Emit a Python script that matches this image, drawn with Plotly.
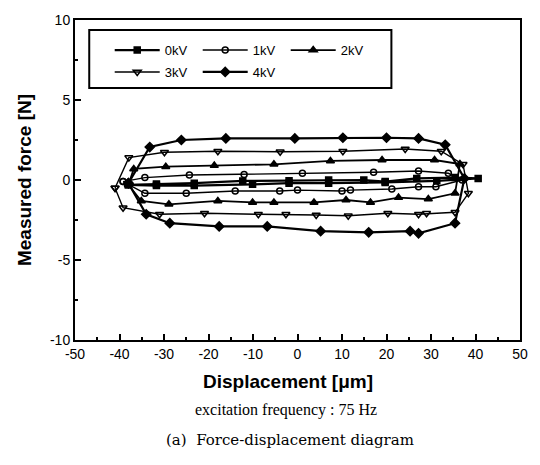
import plotly.graph_objects as go

# ---- data (closed force-displacement loops) ----
x_0kV = [-38, -31.7, -23.2, -12.3, -1.9, 7.0, 14.9, 19.7, 26.8, 35.4, 40.6, 31.3, 19.7, 7.0, -1.9, -10.1, -23.2, -31.7, -38]
y_0kV = [-0.3, -0.25, -0.2, -0.06, -0.05, 0.0, 0.0, -0.1, 0.1, 0.15, 0.1, -0.05, -0.15, -0.2, -0.2, -0.27, -0.35, -0.35, -0.3]

x_1kV = [-39.2, -34.3, -24.3, -12.0, 1.1, 17.1, 27.2, 33.9, 37.0, 31.1, 27.2, 21.2, 11.9, 10.0, 0.0, -4.0, -14.0, -25.0, -34.3, -39.2]
y_1kV = [-0.1, 0.15, 0.31, 0.35, 0.42, 0.48, 0.56, 0.42, 0.0, -0.42, -0.42, -0.56, -0.63, -0.69, -0.63, -0.69, -0.69, -0.83, -0.83, -0.1]

x_2kV = [-38, -36.8, -29.6, -18.7, -5.3, 7.4, 19.0, 30.8, 36.5, 35.4, 29.4, 22.7, 16.4, 10.9, 3.7, -5.3, -10.1, -17.9, -28.9, -35.1, -38]
y_2kV = [-0.3, 0.69, 0.83, 0.9, 0.98, 1.19, 1.25, 1.25, 1.0, -0.83, -1.19, -1.1, -1.4, -1.25, -1.4, -1.4, -1.4, -1.31, -1.52, -1.31, -0.3]

x_3kV = [-41, -37.9, -29.9, -17.9, -3.9, 10.2, 24.2, 32.3, 37.2, 38.4, 35.4, 29.0, 27.2, 20.3, 11.4, 4.2, -2.6, -8.8, -20.9, -31.0, -39.2, -41]
y_3kV = [-0.5, 1.4, 1.73, 1.8, 1.77, 1.8, 1.94, 1.8, 0.98, -0.83, -2.02, -2.08, -2.14, -2.08, -2.23, -2.19, -2.14, -2.14, -2.08, -2.14, -1.73, -0.5]

x_4kV = [-38, -33.2, -26.1, -16.1, -0.6, 10.2, 20.0, 27.2, 33.2, 37.5, 35.4, 27.2, 25.3, 16.0, 5.2, -6.8, -17.6, -28.7, -34.0, -38]
y_4kV = [-0.2, 2.06, 2.5, 2.6, 2.6, 2.64, 2.64, 2.6, 2.2, 0.1, -2.7, -3.33, -3.2, -3.27, -3.2, -2.9, -2.9, -2.7, -2.14, -0.2]

series_names = ["0kV", "1kV", "2kV", "3kV", "4kV"]

x_ticks = [-50, -40, -30, -20, -10, 0, 10, 20, 30, 40, 50]
y_ticks = [-10, -5, 0, 5, 10]

# ---- figure ----
fig = go.Figure()

styles = [
    dict(symbol="square", lw=2.2, size=6, legend="legend"),
    dict(symbol="circle-open", lw=1.4, size=6, legend="legend"),
    dict(symbol="triangle-up", lw=1.8, size=7, legend="legend"),
    dict(symbol="triangle-down-open", lw=1.4, size=7, legend="legend2"),
    dict(symbol="diamond", lw=2.2, size=7, legend="legend2"),
]
data = [(x_0kV, y_0kV), (x_1kV, y_1kV), (x_2kV, y_2kV), (x_3kV, y_3kV), (x_4kV, y_4kV)]

for (xs, ys), name, st in zip(data, series_names, styles):
    fig.add_trace(go.Scatter(
        x=xs, y=ys, name=name, mode="lines+markers",
        line=dict(color="black", width=st["lw"]),
        marker=dict(symbol=st["symbol"], size=st["size"], color="black",
                    line=dict(color="black", width=1.5)),
        legend=st["legend"],
    ))

axis_common = dict(
    showline=True, linecolor="black", linewidth=2, mirror=True,
    ticks="inside", ticklen=6, tickwidth=1.5, tickcolor="black",
    showgrid=False, zeroline=False,
    tickfont=dict(family="Liberation Sans, Arial", size=14, color="black"),
)

fig.update_xaxes(
    range=[-50, 50], tickmode="array", tickvals=x_ticks,
    ticktext=[str(v) for v in x_ticks],
    minor=dict(dtick=5, ticks="inside", ticklen=3, tickcolor="black"),
    **axis_common,
)
fig.update_yaxes(
    range=[-10, 10], tickmode="array", tickvals=y_ticks,
    ticktext=[str(v) for v in y_ticks],
    minor=dict(dtick=2.5, ticks="inside", ticklen=3, tickcolor="black"),
    title=dict(text="<b>Measured force [N]</b>", standoff=13,
               font=dict(family="Liberation Sans, Arial", size=19, color="black")),
    **axis_common,
)

legend_common = dict(
    orientation="h", xanchor="left", yanchor="middle",
    bgcolor="rgba(0,0,0,0)", borderwidth=0,
    font=dict(family="Liberation Sans, Arial", size=13, color="black"),
    entrywidth=28, entrywidthmode="pixels", itemwidth=45,
    tracegroupgap=0,
)

fig.update_layout(
    width=540, height=465,
    margin=dict(l=75, r=18, t=20, b=125),
    paper_bgcolor="white", plot_bgcolor="white",
    showlegend=True,
    legend=dict(x=0.078, y=0.906, **legend_common),
    legend2=dict(x=0.078, y=0.8375, **legend_common),
    shapes=[dict(type="rect", xref="paper", yref="paper",
                 x0=0.032, x1=0.711, y0=0.7875, y1=0.969,
                 line=dict(color="black", width=2))],
    annotations=[
        dict(text="<b>Displacement [μm]</b>", xref="paper", yref="paper",
             x=0.478, y=-0.131, showarrow=False, xanchor="center", yanchor="middle",
             font=dict(family="Liberation Sans, Arial", size=19, color="black")),
        dict(text="excitation frequency : 75 Hz", xref="paper", yref="paper",
             x=0.474, y=-0.219, showarrow=False, xanchor="center", yanchor="middle",
             font=dict(family="Liberation Serif, Times New Roman", size=16, color="black")),
        dict(text="(a)  Force-displacement diagram", xref="paper", yref="paper",
             x=0.483, y=-0.3125, showarrow=False, xanchor="center", yanchor="middle",
             font=dict(family="DejaVu Serif", size=15, color="black")),
    ],
)

fig.write_html("out.html")
